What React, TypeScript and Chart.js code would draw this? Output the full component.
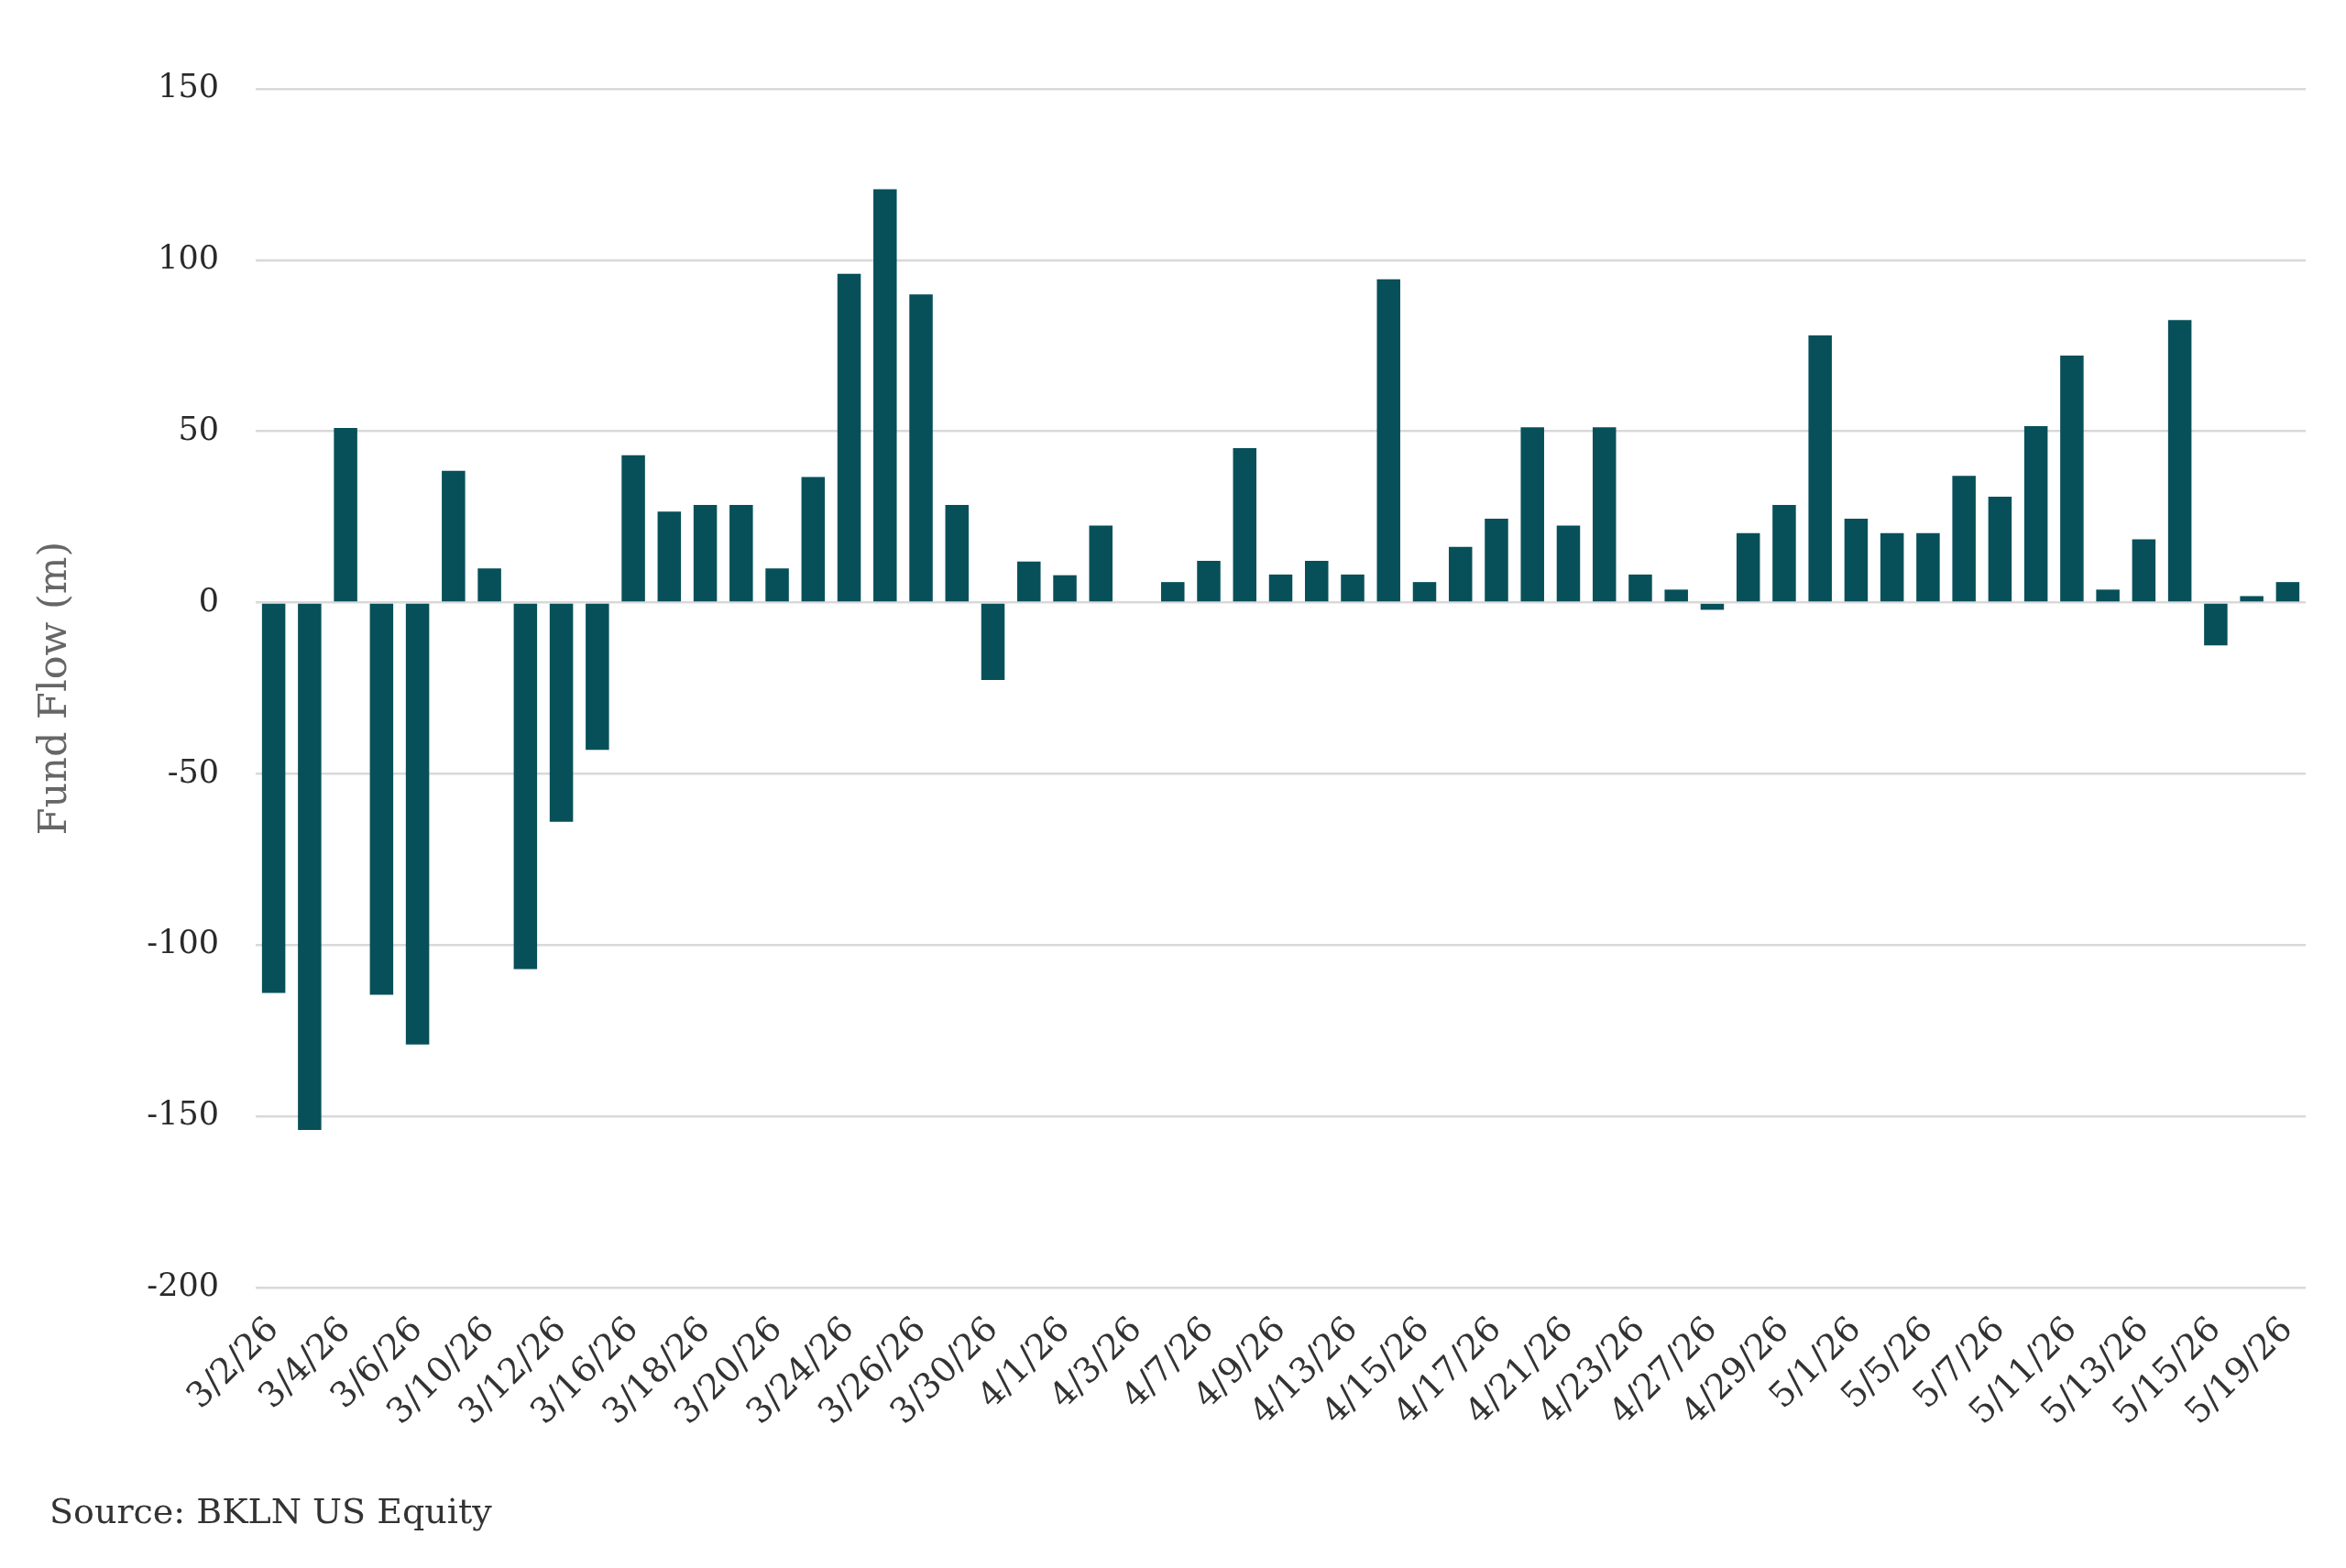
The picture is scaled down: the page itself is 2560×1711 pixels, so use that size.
import React, { useEffect, useRef } from "react";
import { Chart, registerables } from "chart.js";

Chart.register(...registerables);

// business days, 3/2/26 .. 5/19/26
const dates = [
  "3/2/26", "3/3/26", "3/4/26", "3/5/26", "3/6/26",
  "3/9/26", "3/10/26", "3/11/26", "3/12/26", "3/13/26",
  "3/16/26", "3/17/26", "3/18/26", "3/19/26", "3/20/26",
  "3/23/26", "3/24/26", "3/25/26", "3/26/26", "3/27/26",
  "3/30/26", "3/31/26", "4/1/26", "4/2/26", "4/3/26",
  "4/6/26", "4/7/26", "4/8/26", "4/9/26", "4/10/26",
  "4/13/26", "4/14/26", "4/15/26", "4/16/26", "4/17/26",
  "4/20/26", "4/21/26", "4/22/26", "4/23/26", "4/24/26",
  "4/27/26", "4/28/26", "4/29/26", "4/30/26", "5/1/26",
  "5/4/26", "5/5/26", "5/6/26", "5/7/26", "5/8/26",
  "5/11/26", "5/12/26", "5/13/26", "5/14/26", "5/15/26",
  "5/18/26", "5/19/26",
];

// fund flow, millions
const flows = [
  -114, -154, 51, -114.5, -129,
  38.5, 10, -107, -64, -43,
  43, 26.6, 28.5, 28.5, 10,
  36.7, 96, 120.7, 90, 28.5,
  -22.6, 12, 8, 22.5, 0,
  6, 12.2, 45.1, 8.2, 12.2,
  8.2, 94.4, 6, 16.3, 24.5,
  51.2, 22.5, 51.2, 8.2, 3.8,
  -2.1, 20.3, 28.5, 78, 24.5,
  20.3, 20.3, 37, 30.9, 51.5,
  72.1, 3.8, 18.5, 82.5, -12.5,
  1.9, 6,
];

const yTickValues = [-200, -150, -100, -50, 0, 50, 100, 150];

const SERIF = '"DejaVu Serif", Georgia, serif';
const W = 2560;
const H = 1711;

export default function App() {
  const canvasRef = useRef<HTMLCanvasElement>(null);

  useEffect(() => {
    if (!canvasRef.current) return;
    const chart = new Chart(canvasRef.current, {
      type: "bar",
      data: {
        labels: dates,
        datasets: [
          {
            data: flows,
            backgroundColor: "#07505a",
            barPercentage: 0.65,
            categoryPercentage: 1,
          },
        ],
      },
      options: {
        animation: false,
        responsive: true,
        maintainAspectRatio: false,
        layout: { padding: { top: 97, left: 31, right: 44, bottom: 0 } },
        plugins: {
          legend: { display: false },
          tooltip: { enabled: false },
        },
        scales: {
          x: {
            grid: { display: false },
            border: { display: false },
            ticks: {
              autoSkip: false,
              minRotation: 45,
              maxRotation: 45,
              padding: 16,
              color: "#333333",
              font: { family: SERIF, size: 38 },
              callback: (_v, i) => (i % 2 === 0 ? dates[i] : ""),
            },
            afterFit: (scale) => {
              scale.height = H - 1405;
            },
          },
          y: {
            min: -200,
            max: 150,
            afterBuildTicks: (scale) => {
              scale.ticks = yTickValues.map((value) => ({ value }));
            },
            afterFit: (scale) => {
              scale.width = 279 - 31;
            },
            grid: { color: "#d9d9d9", lineWidth: 2.5, drawTicks: false },
            border: { display: false },
            ticks: {
              padding: 40,
              color: "#2a2a2a",
              font: { family: SERIF, size: 35 },
            },
            title: {
              display: true,
              text: "Fund Flow (m)",
              color: "#666666",
              font: { family: SERIF, size: 43 },
            },
          },
        },
      },
    });
    return () => chart.destroy();
  }, []);

  return (
    <div style={{ position: "fixed", left: 0, top: 0, width: W, height: H, background: "#ffffff" }}>
      <canvas ref={canvasRef} />
      <div
        style={{
          position: "absolute",
          left: 54,
          top: 1630,
          fontFamily: SERIF,
          fontSize: 38,
          lineHeight: 1,
          color: "#333333",
          whiteSpace: "nowrap",
        }}
      >
        Source: BKLN US Equity
      </div>
    </div>
  );
}
